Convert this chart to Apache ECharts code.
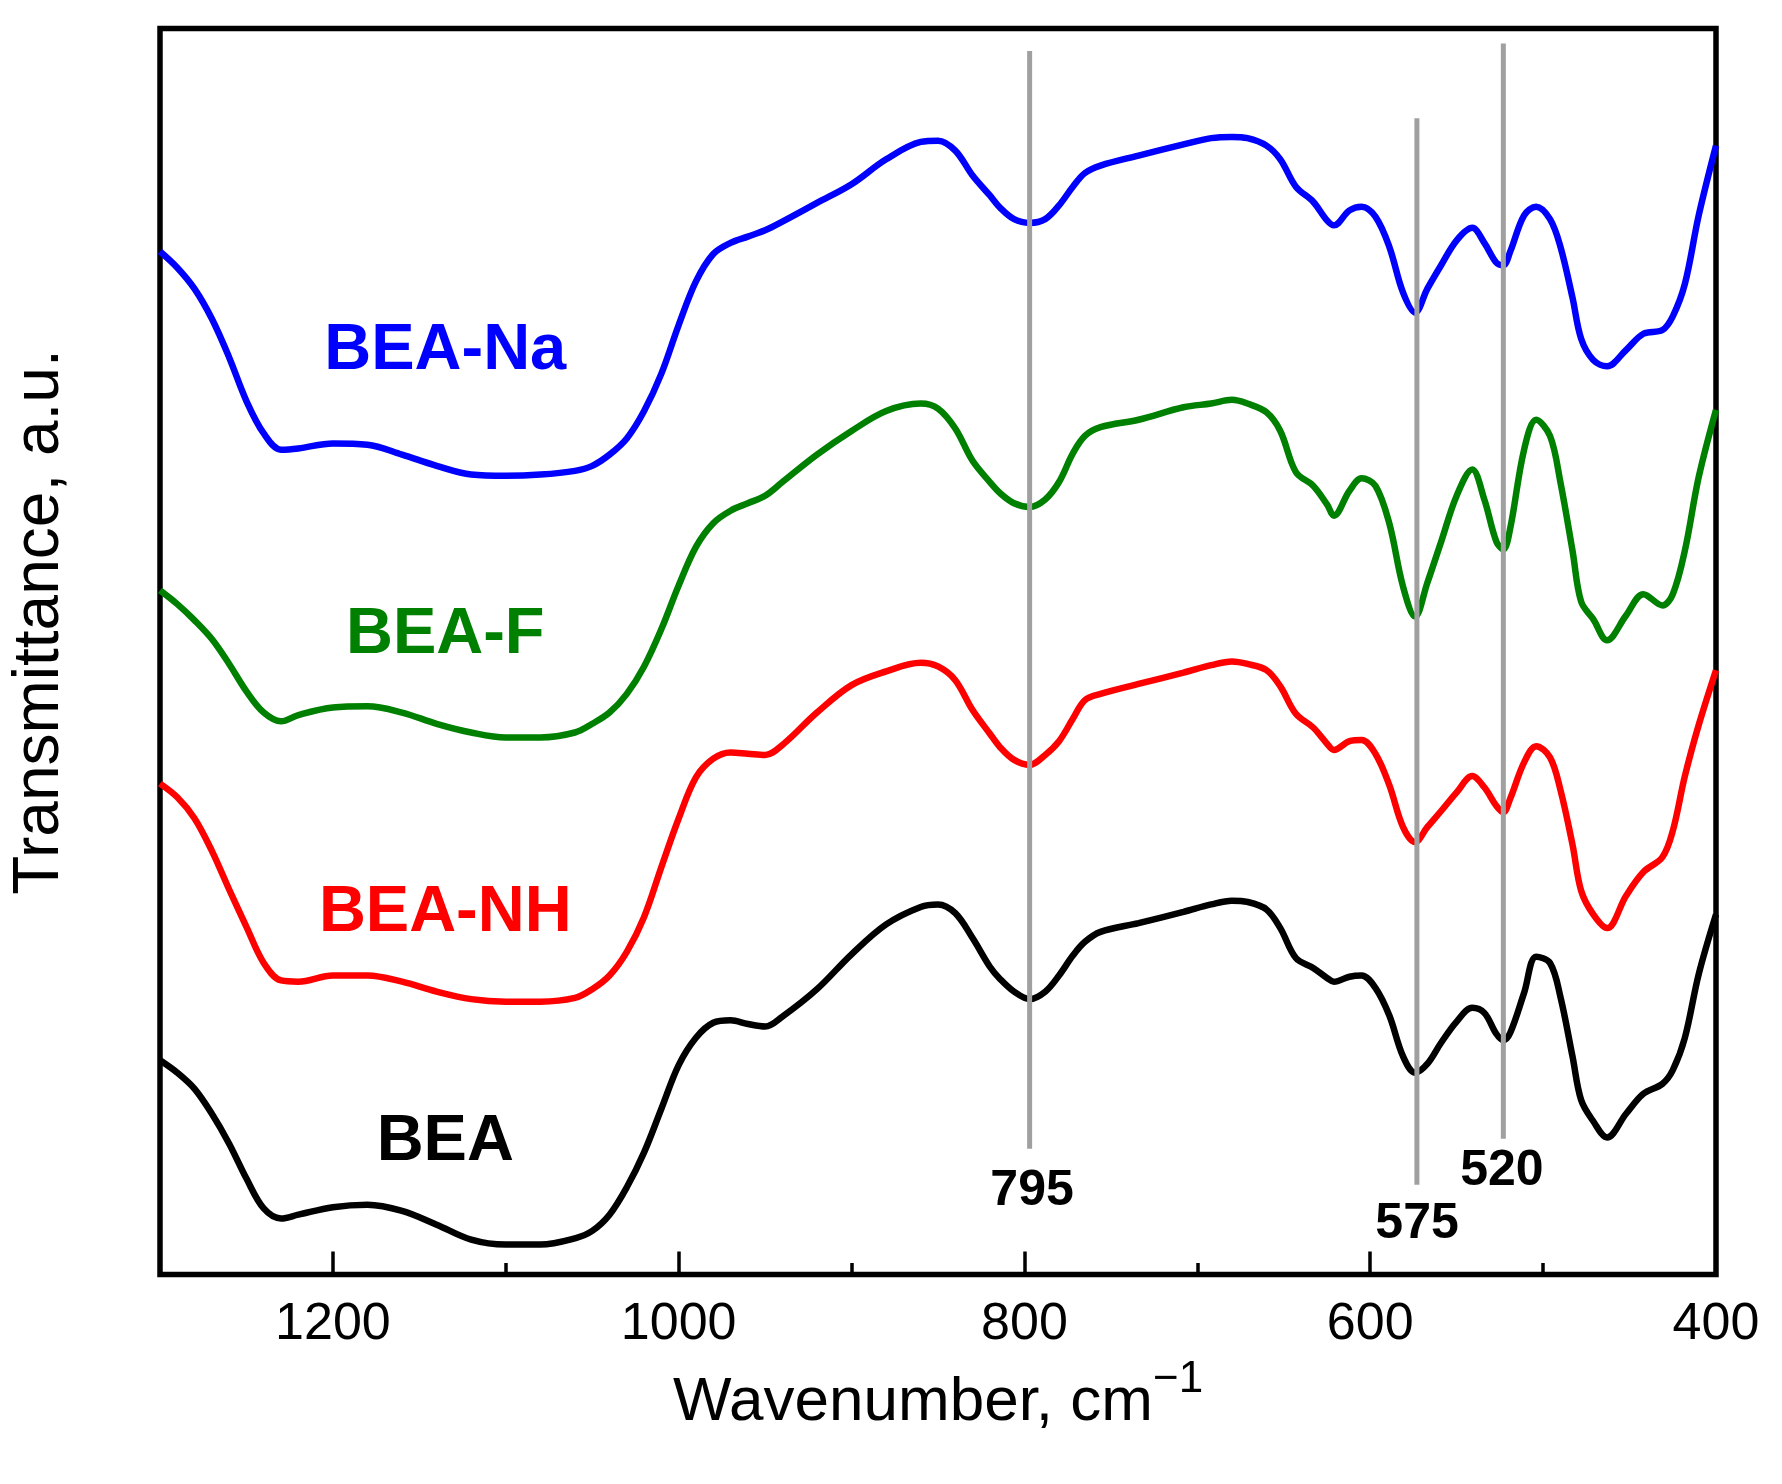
<!DOCTYPE html>
<html>
<head>
<meta charset="utf-8">
<title>FTIR spectra of BEA samples</title>
<script src="https://cdn.jsdelivr.net/npm/echarts@6.0.0/dist/echarts.min.js"></script>
<style>
  html, body { margin: 0; padding: 0; background: #fff; }
  #chart { width: 1782px; height: 1484px; }
</style>
</head>
<body>
<div id="chart"></div>
<script>
// wavenumber grid, cm-1 (shared by all four spectra)
const wavenumbers = [
  1300, 1290, 1280, 1270, 1260, 1250, 1240, 1230, 1220, 1200, 1180, 1160, 1140, 1120, 1100, 1080, 1060,
  1050, 1040, 1030, 1020, 1010, 1000, 990, 980, 970, 960, 950, 940, 920, 900, 880, 860, 850, 840, 830, 820,
  814, 806, 797, 788, 780, 772, 765, 756, 734, 708, 692, 680, 671, 660, 652, 643, 633, 625, 621, 612,
  605, 597, 589, 581, 574, 567, 559, 550, 541, 534, 527, 523, 519, 511, 504, 496, 490, 483, 478, 471,
  463, 452, 442, 431, 425, 418, 410, 400
];

// transmittance, a.u. (curves are offset vertically)
const beaNa = [
  82.1, 80.8, 79.1, 76.7, 73.6, 70.1, 67.5, 66.2, 66.3, 66.7, 66.6, 65.8, 64.9, 64.2, 64.1, 64.2, 64.5,
  64.9, 65.8, 67.1, 69.3, 72.3, 76.2, 79.7, 81.9, 82.8, 83.3, 83.8, 84.5, 86.0, 87.5, 89.5, 90.9, 91.0, 90.2, 88.2, 86.6,
  85.6, 84.7, 84.4, 84.7, 85.8, 87.3, 88.4, 89.0, 89.8, 90.7, 91.2, 91.3, 91.2, 90.6, 89.5, 87.3, 86.1, 84.6, 84.2, 85.4,
  85.7, 84.9, 82.5, 78.8, 77.2, 79.1, 81.0, 83.0, 84.0, 82.8, 81.2, 81.0, 82.1, 85.0, 85.7, 84.7, 82.5, 78.4, 75.1, 73.4,
  72.9, 74.2, 75.5, 75.8, 76.9, 79.5, 85.0, 90.6
];
const beaF = [
  54.9, 53.8, 52.5, 51.0, 49.0, 46.8, 45.1, 44.4, 44.9, 45.5, 45.6, 45.1, 44.2, 43.5, 43.1, 43.1, 43.5,
  44.2, 45.1, 46.6, 48.8, 51.8, 55.3, 58.4, 60.3, 61.3, 61.9, 62.5, 63.6, 65.8, 67.7, 69.3, 69.9, 69.5, 67.9, 65.3, 63.6,
  62.7, 61.9, 61.6, 62.2, 63.6, 65.9, 67.3, 68.0, 68.6, 69.6, 69.9, 70.2, 69.9, 69.2, 67.7, 64.4, 63.3, 61.8, 60.9, 62.9,
  63.9, 63.3, 60.3, 55.2, 52.8, 55.5, 58.8, 62.5, 64.6, 62.2, 58.8, 58.2, 59.9, 66.2, 68.6, 67.3, 63.6, 58.1, 54.0, 52.6,
  50.9, 52.9, 54.6, 53.7, 54.6, 58.1, 64.0, 69.4
];
const beaNH = [
  39.4, 38.3, 36.6, 34.0, 30.9, 27.9, 25.0, 23.6, 23.5, 24.0, 24.0, 23.5, 22.7, 22.1, 21.9, 21.9, 22.2,
  22.9, 24.0, 25.9, 28.7, 32.7, 36.6, 39.9, 41.4, 41.9, 41.8, 41.7, 42.5, 45.1, 47.3, 48.4, 49.1, 48.8, 47.7, 45.3, 43.4,
  42.3, 41.3, 40.9, 41.7, 42.8, 44.6, 46.1, 46.6, 47.4, 48.3, 48.9, 49.2, 49.0, 48.5, 47.2, 45.0, 43.9, 42.6, 42.1, 42.8,
  42.9, 41.8, 39.3, 35.9, 34.7, 35.9, 37.2, 38.7, 40.0, 39.1, 37.6, 37.1, 38.2, 41.1, 42.4, 41.5, 38.9, 34.5, 30.8, 28.9,
  27.8, 30.4, 32.3, 33.5, 35.6, 40.0, 44.1, 48.5
];
const bea = [
  17.2, 16.2, 14.9, 12.9, 10.5, 7.7, 5.3, 4.5, 4.8, 5.4, 5.6, 5.1, 4.0, 2.8, 2.4, 2.4, 2.9,
  3.5, 4.8, 7.0, 9.8, 13.3, 16.8, 19.0, 20.2, 20.4, 20.1, 19.9, 20.7, 22.9, 25.7, 28.1, 29.5, 29.7, 29.0, 27.0, 24.7,
  23.7, 22.7, 22.1, 22.7, 24.0, 25.6, 26.7, 27.5, 28.2, 29.1, 29.7, 30.0, 29.9, 29.3, 27.8, 25.4, 24.6, 23.8, 23.5, 23.9,
  24.0, 23.0, 20.8, 17.5, 16.2, 16.9, 18.6, 20.3, 21.4, 21.0, 19.3, 18.8, 19.4, 22.6, 25.5, 25.0, 22.3, 17.5, 14.0, 12.3,
  11.0, 12.9, 14.5, 15.3, 16.4, 19.0, 24.1, 28.9
];

const sampleNames = ['BEA-Na', 'BEA-F', 'BEA-NH', 'BEA'];
const sampleColors = ['#0000ff', '#008000', '#ff0000', '#000000'];
const sampleSpectra = [beaNa, beaF, beaNH, bea];
// where each sample name is written [wavenumber, a.u.]
const sampleLabelAt = [[1135, 74.1], [1135, 51.3], [1135, 29.0], [1135, 10.6]];

// marked bands: line position, line bottom / top (a.u.), label text and label position
const bandLines = [797, 573, 523];
const bandLineBottom = [10.1, 7.2, 10.9];
const bandLineTop = [98.2, 92.8, 98.8];
const bandLabels = ['795', '575', '520'];
const bandLabelAt = [[795.6, 6.7], [572.9, 4.05], [523.8, 8.3]];

const FONT = '"Liberation Sans", Arial, Helvetica, sans-serif';

const chart = echarts.init(document.getElementById('chart'));

const spectrumSeries = sampleSpectra.map((vals, i) => ({
  name: sampleNames[i],
  type: 'line',
  xAxisIndex: 0,
  data: wavenumbers.map((w, k) => [w, vals[k]]),
  smooth: 0.35,
  symbol: 'none',
  lineStyle: { color: sampleColors[i], width: 6.5 },
  z: 2
}));

const bandSeries = bandLines.map((w, i) => ({
  name: 'band ' + bandLabels[i],
  type: 'line',
  data: [[w, bandLineBottom[i]], [w, bandLineTop[i]]],
  symbol: 'none',
  lineStyle: { color: '#a0a0a0', width: 5 },
  silent: true,
  z: 3
}));

// invisible points that only carry a text label
function textSeries(name, texts, positions, colors, size) {
  return {
    name: name,
    type: 'scatter',
    symbolSize: 1,
    itemStyle: { color: 'rgba(0,0,0,0)', opacity: 1 },
    silent: true,
    z: 4,
    data: texts.map((t, i) => ({
      value: positions[i],
      label: {
        show: true, position: 'inside', formatter: t, color: colors[i], opacity: 1,
        fontSize: size, fontWeight: 'bold', fontFamily: FONT
      }
    }))
  };
}

const option = {
  animation: false,
  backgroundColor: '#fff',
  grid: {
    left: 160, right: 66, top: 28.5, bottom: 209.5,
    show: true, borderColor: '#000', borderWidth: 5.5, backgroundColor: 'transparent'
  },
  xAxis: [
    {
      type: 'value', min: 400, max: 1300, interval: 200, inverse: true, position: 'bottom',
      axisLine: { show: false },
      axisTick: { show: true, inside: true, length: 23, lineStyle: { color: '#000', width: 3.5 } },
      splitLine: { show: false },
      axisLabel: {
        margin: 24, fontSize: 52, color: '#000', fontFamily: FONT,
        formatter: v => (v % 200 === 0 ? String(v) : '')
      },
      name: 'Wavenumber, cm{sup|\u22121}',
      nameLocation: 'middle',
      nameGap: 83,
      nameTextStyle: {
        fontSize: 62, color: '#000', fontFamily: FONT, lineHeight: 90,
        rich: { sup: { fontSize: 44, fontFamily: FONT, color: '#000', verticalAlign: 'top', lineHeight: 44 } }
      }
    },
    {
      type: 'value', min: 400, max: 1300, interval: 100, inverse: true, position: 'bottom',
      axisLine: { show: false },
      axisTick: { show: true, inside: true, length: 11.5, lineStyle: { color: '#000', width: 3.5 } },
      splitLine: { show: false },
      axisLabel: { show: false }
    }
  ],
  yAxis: {
    type: 'value', min: 0, max: 100,
    axisLine: { show: false }, axisTick: { show: false },
    axisLabel: { show: false }, splitLine: { show: false }
  },
  graphic: [{
    type: 'text', x: 40, y: 622, rotation: Math.PI / 2,
    style: {
      text: 'Transmittance, a.u.', fontSize: 64, fontFamily: FONT, fill: '#000',
      align: 'center', verticalAlign: 'middle'
    }
  }],
  series: [
    ...spectrumSeries,
    ...bandSeries,
    textSeries('sample names', sampleNames, sampleLabelAt, sampleColors, 65),
    textSeries('band labels', bandLabels, bandLabelAt, bandLabels.map(() => '#000'), 50)
  ]
};

chart.setOption(option);
</script>
</body>
</html>
